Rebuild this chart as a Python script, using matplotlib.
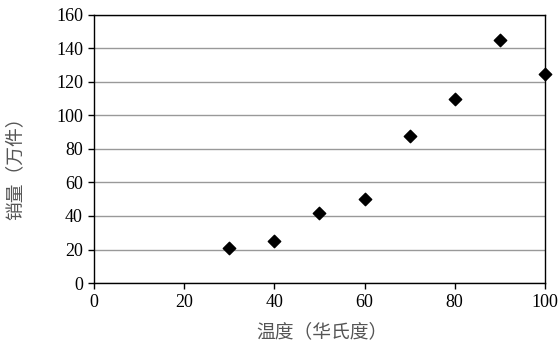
import matplotlib
matplotlib.use("Agg")
import matplotlib.pyplot as plt

temps = [30, 40, 50, 60, 70, 80, 90, 100]
sales = [21, 25, 41.5, 50, 88, 110, 145, 125]
xticks = [0, 20, 40, 60, 80, 100]
yticks = [0, 20, 40, 60, 80, 100, 120, 140, 160]

fig = plt.figure(figsize=(5.6, 3.46), dpi=100)
ax = fig.add_axes([0.168, 0.182, 0.805, 0.775])
ax.set_xlim(0, 100)
ax.set_ylim(0, 160)
ax.set_xticks(xticks)
ax.set_yticks(yticks)
ax.yaxis.grid(True, color="#999999", linewidth=1.0)
ax.set_axisbelow(True)
ax.scatter(temps, sales, marker="D", s=40, color="black", zorder=3, clip_on=False)
for s in ax.spines.values():
    s.set_color("black")
    s.set_linewidth(1.0)
ax.tick_params(direction="out", length=4, width=1, colors="black", labelsize=13, pad=4)
for lab in ax.get_xticklabels() + ax.get_yticklabels():
    lab.set_fontfamily("Liberation Serif")
ax.set_xlabel("温度（华氏度）", family=["Noto Sans CJK SC", "DejaVu Sans"], fontsize=13.5, color="#555555")
ax.set_ylabel("销量（万件）", family=["Noto Sans CJK SC", "DejaVu Sans"], fontsize=13.5, color="#555555")
ax.xaxis.set_label_coords(0.505, -0.142)
ax.yaxis.set_label_coords(-0.153, 0.445)
fig.savefig("out.png", dpi=100)
